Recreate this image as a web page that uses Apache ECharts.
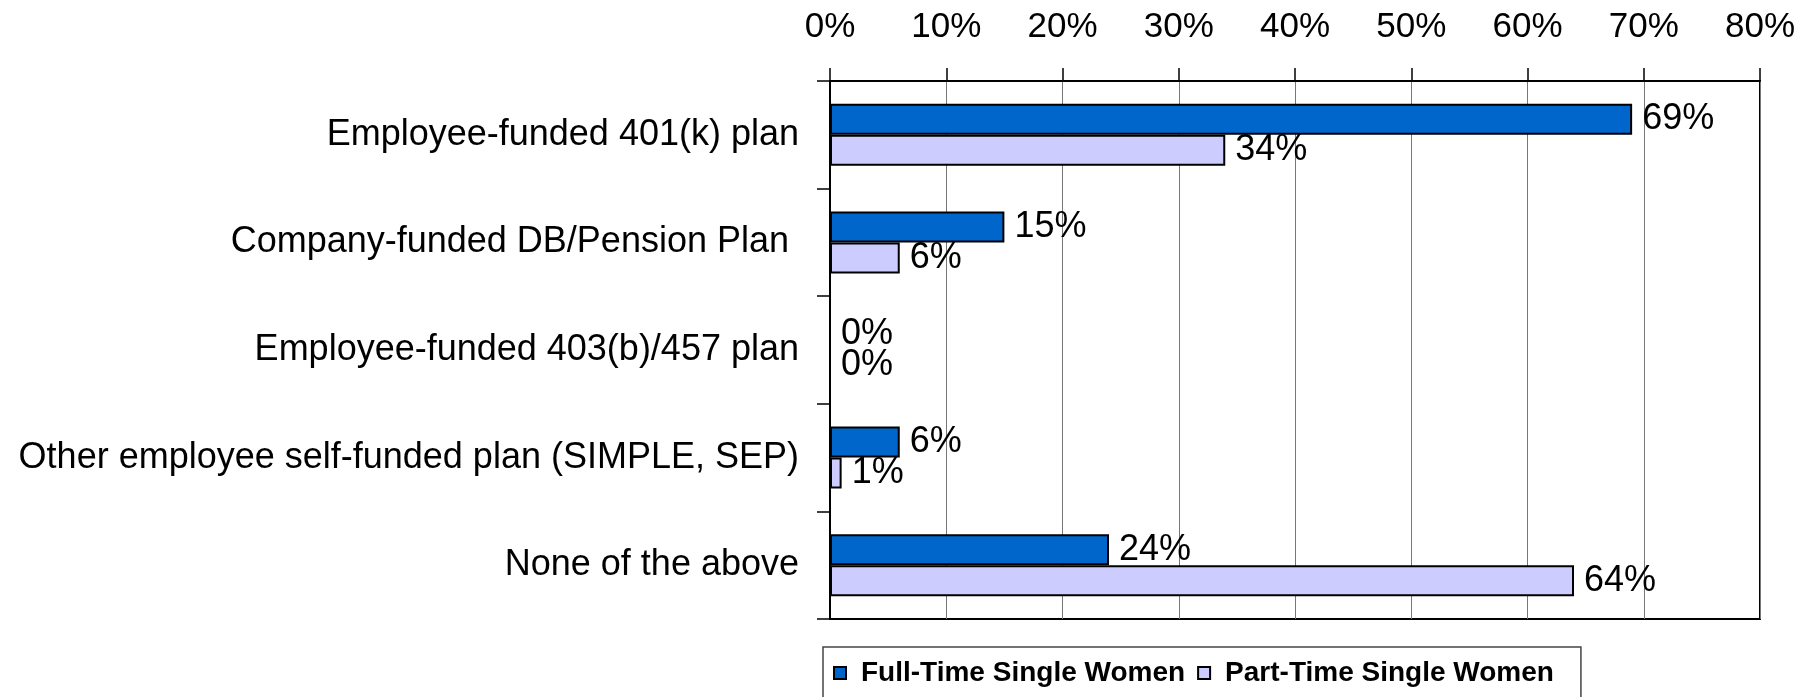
<!DOCTYPE html>
<html>
<head>
<meta charset="utf-8">
<script src="https://cdn.jsdelivr.net/npm/echarts@6.0.0/dist/echarts.min.js"></script>
<style>
  html, body { margin: 0; padding: 0; background: #fff; }
  #chart { width: 1813px; height: 697px; }
</style>
</head>
<body>
<div id="chart"></div>
<script>
// plan types, top to bottom
const categories = [
  'Employee-funded 401(k) plan',
  'Company-funded DB/Pension Plan ',
  'Employee-funded 403(b)/457 plan',
  'Other employee self-funded plan (SIMPLE, SEP)',
  'None of the above'
]
const seriesNames = ['Full-Time Single Women', 'Part-Time Single Women']
const fullTime = [69, 15, 0, 6, 24]
const partTime = [34, 6, 0, 1, 64]
const axisMin = 0
const axisMax = 80
const axisStep = 10

const font = '"Liberation Sans", Arial, sans-serif'
const colors = ['#0066cc', '#ccccff']

const chart = echarts.init(document.getElementById('chart'))

function barSeries (name, data, color) {
  return {
    name: name,
    type: 'bar',
    data: data,
    barWidth: 31,
    barGap: '0%',
    itemStyle: {
      color: color,
      borderColor: '#000',
      borderWidth: 2
    },
    label: {
      show: true,
      position: 'right',
      distance: 10,
      formatter: '{c}%',
      color: '#000',
      fontSize: 36,
      fontFamily: font,
      padding: [4, 0, 0, 0]
    }
  }
}

chart.setOption({
  backgroundColor: '#fff',
  animation: false,
  grid: {
    left: 830,
    right: 53,
    top: 81,
    bottom: 78,
    show: true,
    borderColor: '#000',
    borderWidth: 2,
    backgroundColor: '#fff'
  },
  legend: {
    data: seriesNames,
    left: 823,
    top: 647,
    icon: 'rect',
    itemWidth: 12,
    itemHeight: 12,
    itemGap: 12,
    padding: [12, 27, 40, 10],
    borderColor: '#444',
    borderWidth: 1.5,
    textStyle: {
      fontSize: 28,
      fontWeight: 'bold',
      fontFamily: font,
      color: '#000',
      padding: [0, 0, 0, 10]
    }
  },
  xAxis: {
    type: 'value',
    position: 'top',
    min: axisMin,
    max: axisMax,
    interval: axisStep,
    axisLine: { show: true, lineStyle: { color: '#000', width: 2 } },
    axisTick: { show: true, length: 13, lineStyle: { color: '#000', width: 1.5 } },
    axisLabel: {
      formatter: '{value}%',
      margin: 36,
      fontSize: 35,
      fontFamily: font,
      color: '#000'
    },
    splitLine: { show: true, lineStyle: { color: '#777', width: 1 } }
  },
  yAxis: {
    type: 'category',
    inverse: true,
    data: categories,
    axisLine: { show: true, lineStyle: { color: '#000', width: 2 } },
    axisTick: { show: true, length: 13, lineStyle: { color: '#000', width: 1.5 } },
    axisLabel: {
      margin: 31,
      fontSize: 36,
      fontFamily: font,
      color: '#000',
      padding: [10, 0, 0, 0]
    }
  },
  series: [
    barSeries(seriesNames[0], fullTime, colors[0]),
    barSeries(seriesNames[1], partTime, colors[1])
  ]
})
</script>
</body>
</html>
